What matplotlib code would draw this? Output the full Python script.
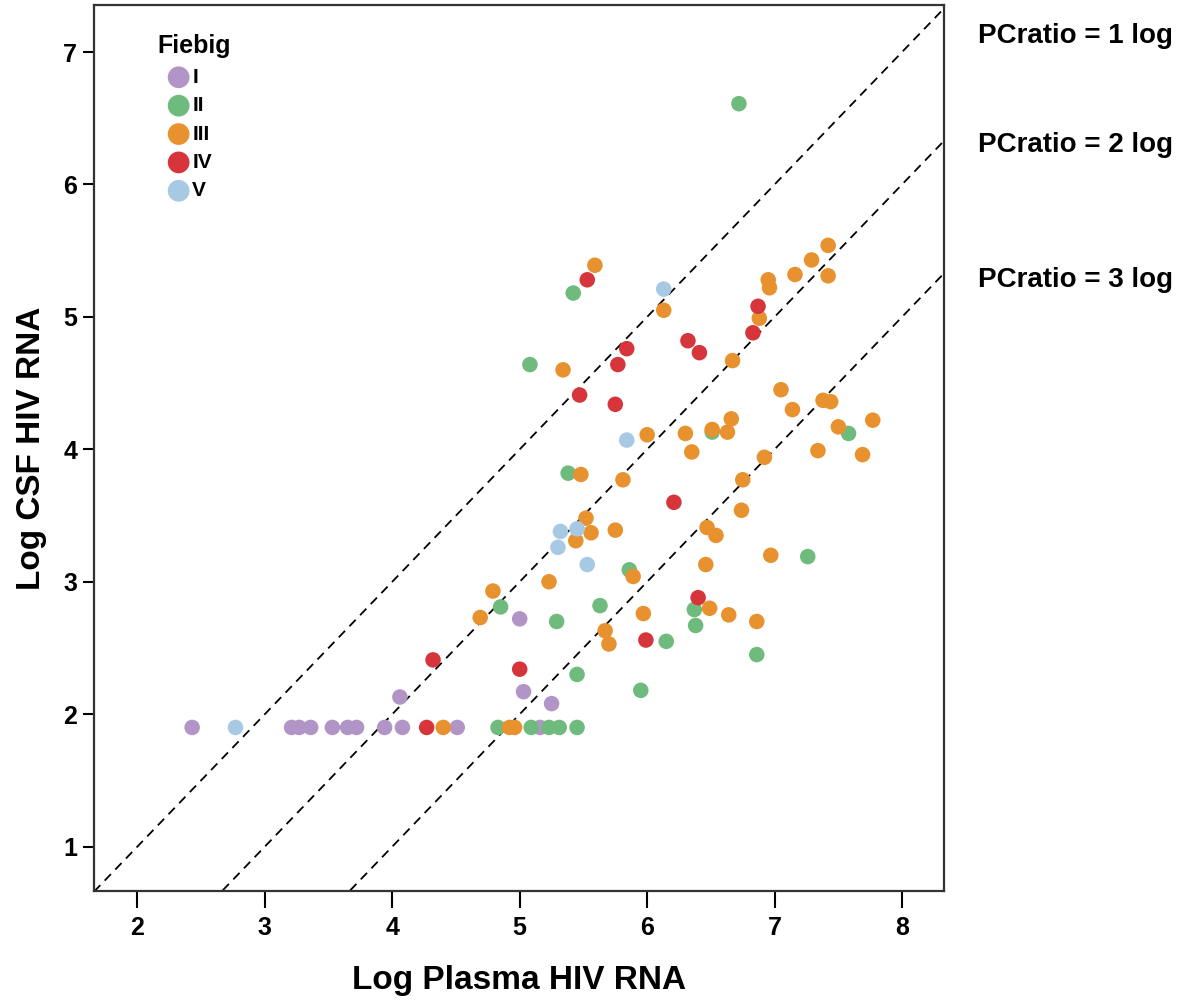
import matplotlib
matplotlib.use("Agg")
from matplotlib import pyplot as plt
import numpy as np

plt.rcParams['font.family'] = ['Liberation Sans', 'DejaVu Sans']
plt.rcParams['font.weight'] = 'bold'

# Fiebig stage -> (log plasma, log CSF) pairs
stage_names = ["I", "II", "III", "IV", "V"]
stage_colors = ["#b195c6", "#6fbb7d", "#e8922f", "#d6363b", "#a8c9e3"]

stage1_plasma = [2.43, 3.21, 3.27, 3.36, 3.53, 3.65, 3.72, 3.94, 4.08, 4.51, 5.16, 4.06, 5.03, 5.25, 5.00]
stage1_csf = [1.90, 1.90, 1.90, 1.90, 1.90, 1.90, 1.90, 1.90, 1.90, 1.90, 1.90, 2.13, 2.17, 2.08, 2.72]

stage2_plasma = [4.83, 5.09, 5.23, 5.31, 5.45, 5.45, 5.95, 6.86, 6.15, 6.38, 6.37, 5.63, 4.85, 5.29,
                 5.86, 7.26, 5.38, 6.51, 7.58, 5.08, 5.42, 6.72]
stage2_csf = [1.90, 1.90, 1.90, 1.90, 1.90, 2.30, 2.18, 2.45, 2.55, 2.67, 2.79, 2.82, 2.81, 2.70,
              3.09, 3.19, 3.82, 4.13, 4.12, 4.64, 5.18, 6.61]

stage3_plasma = [4.40, 4.92, 4.96, 5.59, 6.13, 6.67, 5.34, 6.00, 6.30, 6.51, 6.66, 6.63, 6.35, 5.48, 5.81,
                 7.42, 7.29, 7.16, 7.42, 6.95, 6.96, 6.88, 7.05, 7.14, 7.38, 7.44, 7.77, 7.50, 7.34, 7.69,
                 6.92, 6.75, 6.74, 6.47, 6.54, 5.75, 6.97, 6.46, 5.89, 6.49, 6.64, 6.86, 5.97, 5.67, 5.70,
                 5.52, 5.56, 5.44, 5.23, 4.79, 4.69]
stage3_csf = [1.90, 1.90, 1.90, 5.39, 5.05, 4.67, 4.60, 4.11, 4.12, 4.15, 4.23, 4.13, 3.98, 3.81, 3.77,
              5.54, 5.43, 5.32, 5.31, 5.28, 5.22, 4.99, 4.45, 4.30, 4.37, 4.36, 4.22, 4.17, 3.99, 3.96,
              3.94, 3.77, 3.54, 3.41, 3.35, 3.39, 3.20, 3.13, 3.04, 2.80, 2.75, 2.70, 2.76, 2.63, 2.53,
              3.48, 3.37, 3.31, 3.00, 2.93, 2.73]

stage4_plasma = [4.27, 4.32, 5.00, 5.53, 6.32, 6.41, 5.84, 5.77, 5.47, 5.75, 6.87, 6.83, 6.21, 6.40, 5.99]
stage4_csf = [1.90, 2.41, 2.34, 5.28, 4.82, 4.73, 4.76, 4.64, 4.41, 4.34, 5.08, 4.88, 3.60, 2.88, 2.56]

stage5_plasma = [2.77, 6.13, 5.84, 5.45, 5.32, 5.30, 5.53]
stage5_csf = [1.90, 5.21, 4.07, 3.40, 3.38, 3.26, 3.13]

pc_ratios = [1, 2, 3]

plasma = [stage1_plasma, stage2_plasma, stage3_plasma, stage4_plasma, stage5_plasma]
csf = [stage1_csf, stage2_csf, stage3_csf, stage4_csf, stage5_csf]

fig = plt.figure(figsize=(11.84, 10), dpi=100)
ax = fig.add_axes([0.0794, 0.109, 0.718, 0.886])

xlim = (1.66, 8.33)
ylim = (0.665, 7.355)

# reference lines: CSF = plasma - ratio
xs = np.array(xlim)
for r in pc_ratios:
    ax.plot(xs, xs - r, color='black', lw=1.3, ls=(0, (5, 3.5)), zorder=1)

for name, col, px, cy in zip(stage_names, stage_colors, plasma, csf):
    ax.scatter(px, cy, s=125, color=col, edgecolors='none', label=name, zorder=3)

ax.set_xlim(*xlim)
ax.set_ylim(*ylim)
ax.set_xticks(range(2, 9))
ax.set_yticks(range(1, 8))
ax.tick_params(axis='x', length=12, width=1.5, labelsize=18, pad=6)
ax.tick_params(axis='y', length=8, width=1.5, labelsize=18, pad=4)
for lab in ax.get_xticklabels() + ax.get_yticklabels():
    lab.set_fontweight('bold')
for sp in ax.spines.values():
    sp.set_linewidth(1.6)
    sp.set_color('#333333')

ax.set_xlabel('Log Plasma HIV RNA', fontsize=24, fontweight='bold', labelpad=18)
ax.set_ylabel('Log CSF HIV RNA', fontsize=24, fontweight='bold', labelpad=12)

leg = ax.legend(title='Fiebig', loc='upper left', bbox_to_anchor=(0.053, 0.988),
                frameon=False, handletextpad=-0.35, labelspacing=0.45, markerscale=1.4,
                prop={'size': 15, 'weight': 'bold'},
                title_fontproperties={'size': 18, 'weight': 'bold'}, alignment='left')

for r, ty in zip(pc_ratios, [0.964, 0.855, 0.720]):
    fig.text(0.826, ty, f'PCratio = {r} log', fontsize=20, fontweight='bold', va='center', ha='left')

fig.savefig('out.png', dpi=100)
